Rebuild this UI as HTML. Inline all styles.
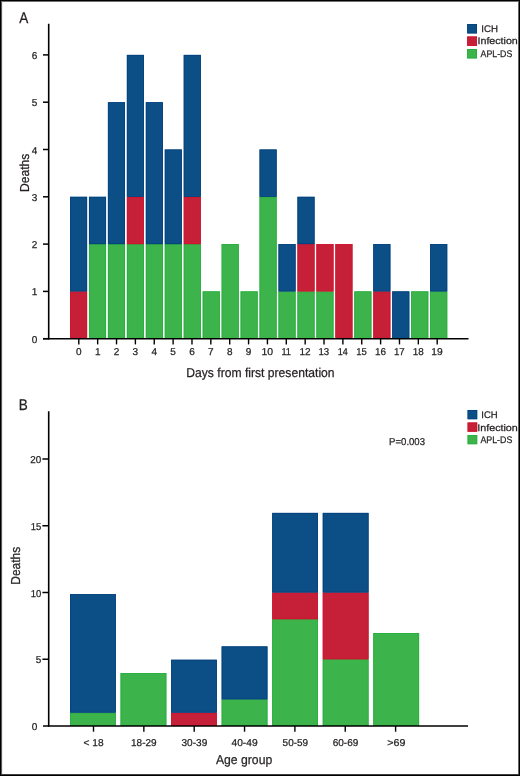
<!DOCTYPE html>
<html><head><meta charset="utf-8"><style>
html,body{margin:0;padding:0;background:#fff;}
body{width:520px;height:776px;overflow:hidden;position:relative;}
svg{position:absolute;left:0;top:0;will-change:transform;}
text{text-rendering:geometricPrecision;font-family:"Liberation Sans", sans-serif;fill:#231f20;stroke:#231f20;stroke-width:0.25px;}
.b{position:absolute;}
</style></head><body>
<svg width="520" height="776" viewBox="0 0 520 776">
<rect x="70.00" y="291.40" width="17.10" height="47.30" fill="#c52038"/>
<rect x="70.40" y="291.80" width="16.30" height="46.50" fill="none" stroke="#d4122e" stroke-width="0.8"/>
<rect x="70.00" y="196.80" width="17.10" height="94.60" fill="#0c4f86"/>
<rect x="70.40" y="197.20" width="16.30" height="93.80" fill="none" stroke="#04417d" stroke-width="0.8"/>
<rect x="88.95" y="244.10" width="17.10" height="94.60" fill="#3db44b"/>
<rect x="89.36" y="244.50" width="16.30" height="93.80" fill="none" stroke="#25ad3e" stroke-width="0.8"/>
<rect x="88.95" y="196.80" width="17.10" height="47.30" fill="#0c4f86"/>
<rect x="89.36" y="197.20" width="16.30" height="46.50" fill="none" stroke="#04417d" stroke-width="0.8"/>
<rect x="107.91" y="244.10" width="17.10" height="94.60" fill="#3db44b"/>
<rect x="108.31" y="244.50" width="16.30" height="93.80" fill="none" stroke="#25ad3e" stroke-width="0.8"/>
<rect x="107.91" y="102.20" width="17.10" height="141.90" fill="#0c4f86"/>
<rect x="108.31" y="102.60" width="16.30" height="141.10" fill="none" stroke="#04417d" stroke-width="0.8"/>
<rect x="126.86" y="244.10" width="17.10" height="94.60" fill="#3db44b"/>
<rect x="127.27" y="244.50" width="16.30" height="93.80" fill="none" stroke="#25ad3e" stroke-width="0.8"/>
<rect x="126.86" y="196.80" width="17.10" height="47.30" fill="#c52038"/>
<rect x="127.27" y="197.20" width="16.30" height="46.50" fill="none" stroke="#d4122e" stroke-width="0.8"/>
<rect x="126.86" y="54.90" width="17.10" height="141.90" fill="#0c4f86"/>
<rect x="127.27" y="55.30" width="16.30" height="141.10" fill="none" stroke="#04417d" stroke-width="0.8"/>
<rect x="145.82" y="244.10" width="17.10" height="94.60" fill="#3db44b"/>
<rect x="146.22" y="244.50" width="16.30" height="93.80" fill="none" stroke="#25ad3e" stroke-width="0.8"/>
<rect x="145.82" y="102.20" width="17.10" height="141.90" fill="#0c4f86"/>
<rect x="146.22" y="102.60" width="16.30" height="141.10" fill="none" stroke="#04417d" stroke-width="0.8"/>
<rect x="164.77" y="244.10" width="17.10" height="94.60" fill="#3db44b"/>
<rect x="165.17" y="244.50" width="16.30" height="93.80" fill="none" stroke="#25ad3e" stroke-width="0.8"/>
<rect x="164.77" y="149.50" width="17.10" height="94.60" fill="#0c4f86"/>
<rect x="165.17" y="149.90" width="16.30" height="93.80" fill="none" stroke="#04417d" stroke-width="0.8"/>
<rect x="183.73" y="244.10" width="17.10" height="94.60" fill="#3db44b"/>
<rect x="184.13" y="244.50" width="16.30" height="93.80" fill="none" stroke="#25ad3e" stroke-width="0.8"/>
<rect x="183.73" y="196.80" width="17.10" height="47.30" fill="#c52038"/>
<rect x="184.13" y="197.20" width="16.30" height="46.50" fill="none" stroke="#d4122e" stroke-width="0.8"/>
<rect x="183.73" y="54.90" width="17.10" height="141.90" fill="#0c4f86"/>
<rect x="184.13" y="55.30" width="16.30" height="141.10" fill="none" stroke="#04417d" stroke-width="0.8"/>
<rect x="202.69" y="291.40" width="17.10" height="47.30" fill="#3db44b"/>
<rect x="203.09" y="291.80" width="16.30" height="46.50" fill="none" stroke="#25ad3e" stroke-width="0.8"/>
<rect x="221.64" y="244.10" width="17.10" height="94.60" fill="#3db44b"/>
<rect x="222.04" y="244.50" width="16.30" height="93.80" fill="none" stroke="#25ad3e" stroke-width="0.8"/>
<rect x="240.59" y="291.40" width="17.10" height="47.30" fill="#3db44b"/>
<rect x="240.99" y="291.80" width="16.30" height="46.50" fill="none" stroke="#25ad3e" stroke-width="0.8"/>
<rect x="259.55" y="196.80" width="17.10" height="141.90" fill="#3db44b"/>
<rect x="259.95" y="197.20" width="16.30" height="141.10" fill="none" stroke="#25ad3e" stroke-width="0.8"/>
<rect x="259.55" y="149.50" width="17.10" height="47.30" fill="#0c4f86"/>
<rect x="259.95" y="149.90" width="16.30" height="46.50" fill="none" stroke="#04417d" stroke-width="0.8"/>
<rect x="278.50" y="291.40" width="17.10" height="47.30" fill="#3db44b"/>
<rect x="278.90" y="291.80" width="16.30" height="46.50" fill="none" stroke="#25ad3e" stroke-width="0.8"/>
<rect x="278.50" y="244.10" width="17.10" height="47.30" fill="#0c4f86"/>
<rect x="278.90" y="244.50" width="16.30" height="46.50" fill="none" stroke="#04417d" stroke-width="0.8"/>
<rect x="297.46" y="291.40" width="17.10" height="47.30" fill="#3db44b"/>
<rect x="297.86" y="291.80" width="16.30" height="46.50" fill="none" stroke="#25ad3e" stroke-width="0.8"/>
<rect x="297.46" y="244.10" width="17.10" height="47.30" fill="#c52038"/>
<rect x="297.86" y="244.50" width="16.30" height="46.50" fill="none" stroke="#d4122e" stroke-width="0.8"/>
<rect x="297.46" y="196.80" width="17.10" height="47.30" fill="#0c4f86"/>
<rect x="297.86" y="197.20" width="16.30" height="46.50" fill="none" stroke="#04417d" stroke-width="0.8"/>
<rect x="316.41" y="291.40" width="17.10" height="47.30" fill="#3db44b"/>
<rect x="316.81" y="291.80" width="16.30" height="46.50" fill="none" stroke="#25ad3e" stroke-width="0.8"/>
<rect x="316.41" y="244.10" width="17.10" height="47.30" fill="#c52038"/>
<rect x="316.81" y="244.50" width="16.30" height="46.50" fill="none" stroke="#d4122e" stroke-width="0.8"/>
<rect x="335.37" y="244.10" width="17.10" height="94.60" fill="#c52038"/>
<rect x="335.77" y="244.50" width="16.30" height="93.80" fill="none" stroke="#d4122e" stroke-width="0.8"/>
<rect x="354.32" y="291.40" width="17.10" height="47.30" fill="#3db44b"/>
<rect x="354.72" y="291.80" width="16.30" height="46.50" fill="none" stroke="#25ad3e" stroke-width="0.8"/>
<rect x="373.28" y="291.40" width="17.10" height="47.30" fill="#c52038"/>
<rect x="373.68" y="291.80" width="16.30" height="46.50" fill="none" stroke="#d4122e" stroke-width="0.8"/>
<rect x="373.28" y="244.10" width="17.10" height="47.30" fill="#0c4f86"/>
<rect x="373.68" y="244.50" width="16.30" height="46.50" fill="none" stroke="#04417d" stroke-width="0.8"/>
<rect x="392.23" y="291.40" width="17.10" height="47.30" fill="#0c4f86"/>
<rect x="392.63" y="291.80" width="16.30" height="46.50" fill="none" stroke="#04417d" stroke-width="0.8"/>
<rect x="411.19" y="291.40" width="17.10" height="47.30" fill="#3db44b"/>
<rect x="411.59" y="291.80" width="16.30" height="46.50" fill="none" stroke="#25ad3e" stroke-width="0.8"/>
<rect x="430.14" y="291.40" width="17.10" height="47.30" fill="#3db44b"/>
<rect x="430.54" y="291.80" width="16.30" height="46.50" fill="none" stroke="#25ad3e" stroke-width="0.8"/>
<rect x="430.14" y="244.10" width="17.10" height="47.30" fill="#0c4f86"/>
<rect x="430.54" y="244.50" width="16.30" height="46.50" fill="none" stroke="#04417d" stroke-width="0.8"/>
<line x1="48.70" y1="23.70" x2="48.70" y2="339.40" stroke="#000" stroke-width="1.6"/>
<line x1="43.00" y1="338.70" x2="468.50" y2="338.70" stroke="#000" stroke-width="1.6"/>
<line x1="43.00" y1="338.70" x2="48.70" y2="338.70" stroke="#000" stroke-width="1.5"/>
<text x="34.50" y="342.70" font-size="10.0" text-anchor="middle" >0</text>
<line x1="43.00" y1="291.40" x2="48.70" y2="291.40" stroke="#000" stroke-width="1.5"/>
<text x="34.50" y="295.40" font-size="10.0" text-anchor="middle" >1</text>
<line x1="43.00" y1="244.10" x2="48.70" y2="244.10" stroke="#000" stroke-width="1.5"/>
<text x="34.50" y="248.10" font-size="10.0" text-anchor="middle" >2</text>
<line x1="43.00" y1="196.80" x2="48.70" y2="196.80" stroke="#000" stroke-width="1.5"/>
<text x="34.50" y="200.80" font-size="10.0" text-anchor="middle" >3</text>
<line x1="43.00" y1="149.50" x2="48.70" y2="149.50" stroke="#000" stroke-width="1.5"/>
<text x="34.50" y="153.50" font-size="10.0" text-anchor="middle" >4</text>
<line x1="43.00" y1="102.20" x2="48.70" y2="102.20" stroke="#000" stroke-width="1.5"/>
<text x="34.50" y="106.20" font-size="10.0" text-anchor="middle" >5</text>
<line x1="43.00" y1="54.90" x2="48.70" y2="54.90" stroke="#000" stroke-width="1.5"/>
<text x="34.50" y="58.90" font-size="10.0" text-anchor="middle" >6</text>
<line x1="78.80" y1="338.70" x2="78.80" y2="344.40" stroke="#000" stroke-width="1.4"/>
<text x="78.80" y="355.30" font-size="10.0" text-anchor="middle" >0</text>
<line x1="97.66" y1="338.70" x2="97.66" y2="344.40" stroke="#000" stroke-width="1.4"/>
<text x="97.66" y="355.30" font-size="10.0" text-anchor="middle" >1</text>
<line x1="116.53" y1="338.70" x2="116.53" y2="344.40" stroke="#000" stroke-width="1.4"/>
<text x="116.53" y="355.30" font-size="10.0" text-anchor="middle" >2</text>
<line x1="135.39" y1="338.70" x2="135.39" y2="344.40" stroke="#000" stroke-width="1.4"/>
<text x="135.39" y="355.30" font-size="10.0" text-anchor="middle" >3</text>
<line x1="154.25" y1="338.70" x2="154.25" y2="344.40" stroke="#000" stroke-width="1.4"/>
<text x="154.25" y="355.30" font-size="10.0" text-anchor="middle" >4</text>
<line x1="173.12" y1="338.70" x2="173.12" y2="344.40" stroke="#000" stroke-width="1.4"/>
<text x="173.12" y="355.30" font-size="10.0" text-anchor="middle" >5</text>
<line x1="191.98" y1="338.70" x2="191.98" y2="344.40" stroke="#000" stroke-width="1.4"/>
<text x="191.98" y="355.30" font-size="10.0" text-anchor="middle" >6</text>
<line x1="210.84" y1="338.70" x2="210.84" y2="344.40" stroke="#000" stroke-width="1.4"/>
<text x="210.84" y="355.30" font-size="10.0" text-anchor="middle" >7</text>
<line x1="229.70" y1="338.70" x2="229.70" y2="344.40" stroke="#000" stroke-width="1.4"/>
<text x="229.70" y="355.30" font-size="10.0" text-anchor="middle" >8</text>
<line x1="248.57" y1="338.70" x2="248.57" y2="344.40" stroke="#000" stroke-width="1.4"/>
<text x="248.57" y="355.30" font-size="10.0" text-anchor="middle" >9</text>
<line x1="267.43" y1="338.70" x2="267.43" y2="344.40" stroke="#000" stroke-width="1.4"/>
<text x="261.44" y="355.30" font-size="10.0" text-anchor="start" textLength="11.60" lengthAdjust="spacingAndGlyphs" >10</text>
<line x1="286.29" y1="338.70" x2="286.29" y2="344.40" stroke="#000" stroke-width="1.4"/>
<text x="281.39" y="355.30" font-size="10.0" text-anchor="start" textLength="9.58" lengthAdjust="spacingAndGlyphs" >11</text>
<line x1="305.16" y1="338.70" x2="305.16" y2="344.40" stroke="#000" stroke-width="1.4"/>
<text x="299.44" y="355.30" font-size="10.0" text-anchor="start" textLength="11.17" lengthAdjust="spacingAndGlyphs" >12</text>
<line x1="324.02" y1="338.70" x2="324.02" y2="344.40" stroke="#000" stroke-width="1.4"/>
<text x="318.48" y="355.30" font-size="10.0" text-anchor="start" textLength="10.76" lengthAdjust="spacingAndGlyphs" >13</text>
<line x1="342.88" y1="338.70" x2="342.88" y2="344.40" stroke="#000" stroke-width="1.4"/>
<text x="337.64" y="355.30" font-size="10.0" text-anchor="start" textLength="10.05" lengthAdjust="spacingAndGlyphs" >14</text>
<line x1="361.75" y1="338.70" x2="361.75" y2="344.40" stroke="#000" stroke-width="1.4"/>
<text x="356.32" y="355.30" font-size="10.0" text-anchor="start" textLength="10.52" lengthAdjust="spacingAndGlyphs" >15</text>
<line x1="380.61" y1="338.70" x2="380.61" y2="344.40" stroke="#000" stroke-width="1.4"/>
<text x="374.96" y="355.30" font-size="10.0" text-anchor="start" textLength="10.99" lengthAdjust="spacingAndGlyphs" >16</text>
<line x1="399.47" y1="338.70" x2="399.47" y2="344.40" stroke="#000" stroke-width="1.4"/>
<text x="393.99" y="355.30" font-size="10.0" text-anchor="start" textLength="10.72" lengthAdjust="spacingAndGlyphs" >17</text>
<line x1="418.33" y1="338.70" x2="418.33" y2="344.40" stroke="#000" stroke-width="1.4"/>
<text x="412.68" y="355.30" font-size="10.0" text-anchor="start" textLength="10.98" lengthAdjust="spacingAndGlyphs" >18</text>
<line x1="437.20" y1="338.70" x2="437.20" y2="344.40" stroke="#000" stroke-width="1.4"/>
<text x="431.37" y="355.30" font-size="10.0" text-anchor="start" textLength="11.36" lengthAdjust="spacingAndGlyphs" >19</text>
<text x="186.31" y="376.90" font-size="12.9" text-anchor="start" textLength="148.28" lengthAdjust="spacingAndGlyphs" >Days from first presentation</text>
<g transform="translate(28.70,191.00) rotate(-90)">
<text x="-0.99" y="0.00" font-size="13.0" text-anchor="start" textLength="38.23" lengthAdjust="spacingAndGlyphs" >Deaths</text>
</g>
<text x="19.17" y="22.60" font-size="15.5" text-anchor="start" textLength="9.05" lengthAdjust="spacingAndGlyphs" >A</text>
<rect x="467.20" y="24.00" width="9.80" height="9.40" fill="#0c4f86"/>
<rect x="467.60" y="24.40" width="9.00" height="8.60" fill="none" stroke="#04417d" stroke-width="0.8"/>
<text x="481.31" y="31.90" font-size="9.6" text-anchor="start" textLength="16.68" lengthAdjust="spacingAndGlyphs" >ICH</text>
<rect x="467.20" y="36.50" width="9.80" height="9.40" fill="#c52038"/>
<rect x="467.60" y="36.90" width="9.00" height="8.60" fill="none" stroke="#d4122e" stroke-width="0.8"/>
<text x="477.52" y="44.40" font-size="9.6" text-anchor="start" textLength="40.28" lengthAdjust="spacingAndGlyphs" >Infection</text>
<rect x="467.20" y="49.00" width="9.80" height="9.40" fill="#3db44b"/>
<rect x="467.60" y="49.40" width="9.00" height="8.60" fill="none" stroke="#25ad3e" stroke-width="0.8"/>
<text x="480.58" y="56.90" font-size="9.6" text-anchor="start" textLength="31.72" lengthAdjust="spacingAndGlyphs" >APL-DS</text>
<rect x="70.00" y="712.65" width="45.80" height="13.35" fill="#3db44b"/>
<rect x="70.40" y="713.05" width="45.00" height="12.55" fill="none" stroke="#25ad3e" stroke-width="0.8"/>
<rect x="70.00" y="594.10" width="45.80" height="118.55" fill="#0c4f86"/>
<rect x="70.40" y="594.50" width="45.00" height="117.75" fill="none" stroke="#04417d" stroke-width="0.8"/>
<rect x="120.55" y="673.10" width="45.80" height="52.90" fill="#3db44b"/>
<rect x="120.95" y="673.50" width="45.00" height="52.10" fill="none" stroke="#25ad3e" stroke-width="0.8"/>
<rect x="171.10" y="712.65" width="45.80" height="13.35" fill="#c52038"/>
<rect x="171.50" y="713.05" width="45.00" height="12.55" fill="none" stroke="#d4122e" stroke-width="0.8"/>
<rect x="171.10" y="659.75" width="45.80" height="52.90" fill="#0c4f86"/>
<rect x="171.50" y="660.15" width="45.00" height="52.10" fill="none" stroke="#04417d" stroke-width="0.8"/>
<rect x="221.65" y="699.30" width="45.80" height="26.70" fill="#3db44b"/>
<rect x="222.05" y="699.70" width="45.00" height="25.90" fill="none" stroke="#25ad3e" stroke-width="0.8"/>
<rect x="221.65" y="646.40" width="45.80" height="52.90" fill="#0c4f86"/>
<rect x="222.05" y="646.80" width="45.00" height="52.10" fill="none" stroke="#04417d" stroke-width="0.8"/>
<rect x="272.20" y="619.20" width="45.80" height="106.80" fill="#3db44b"/>
<rect x="272.60" y="619.60" width="45.00" height="106.00" fill="none" stroke="#25ad3e" stroke-width="0.8"/>
<rect x="272.20" y="592.50" width="45.80" height="26.70" fill="#c52038"/>
<rect x="272.60" y="592.90" width="45.00" height="25.90" fill="none" stroke="#d4122e" stroke-width="0.8"/>
<rect x="272.20" y="512.90" width="45.80" height="79.60" fill="#0c4f86"/>
<rect x="272.60" y="513.30" width="45.00" height="78.80" fill="none" stroke="#04417d" stroke-width="0.8"/>
<rect x="322.75" y="659.25" width="45.80" height="66.75" fill="#3db44b"/>
<rect x="323.15" y="659.65" width="45.00" height="65.95" fill="none" stroke="#25ad3e" stroke-width="0.8"/>
<rect x="322.75" y="592.50" width="45.80" height="66.75" fill="#c52038"/>
<rect x="323.15" y="592.90" width="45.00" height="65.95" fill="none" stroke="#d4122e" stroke-width="0.8"/>
<rect x="322.75" y="512.90" width="45.80" height="79.60" fill="#0c4f86"/>
<rect x="323.15" y="513.30" width="45.00" height="78.80" fill="none" stroke="#04417d" stroke-width="0.8"/>
<rect x="373.30" y="633.05" width="45.80" height="92.95" fill="#3db44b"/>
<rect x="373.70" y="633.45" width="45.00" height="92.15" fill="none" stroke="#25ad3e" stroke-width="0.8"/>
<line x1="48.70" y1="411.20" x2="48.70" y2="726.80" stroke="#000" stroke-width="1.6"/>
<line x1="43.00" y1="726.00" x2="468.00" y2="726.00" stroke="#000" stroke-width="1.6"/>
<text x="34.60" y="730.00" font-size="10.0" text-anchor="middle" >0</text>
<line x1="42.40" y1="659.25" x2="48.70" y2="659.25" stroke="#000" stroke-width="1.5"/>
<text x="35.76" y="663.25" font-size="10.0" text-anchor="start" textLength="5.56" lengthAdjust="spacingAndGlyphs" >5</text>
<line x1="42.40" y1="592.50" x2="48.70" y2="592.50" stroke="#000" stroke-width="1.5"/>
<text x="30.78" y="596.50" font-size="10.0" text-anchor="start" textLength="10.49" lengthAdjust="spacingAndGlyphs" >10</text>
<line x1="42.40" y1="525.75" x2="48.70" y2="525.75" stroke="#000" stroke-width="1.5"/>
<text x="30.78" y="529.75" font-size="10.0" text-anchor="start" textLength="10.52" lengthAdjust="spacingAndGlyphs" >15</text>
<line x1="42.40" y1="459.00" x2="48.70" y2="459.00" stroke="#000" stroke-width="1.5"/>
<text x="30.30" y="463.00" font-size="10.0" text-anchor="start" textLength="10.98" lengthAdjust="spacingAndGlyphs" >20</text>
<line x1="93.50" y1="726.00" x2="93.50" y2="731.70" stroke="#000" stroke-width="1.4"/>
<text x="83.50" y="746.20" font-size="10.0" text-anchor="start" textLength="20.04" lengthAdjust="spacingAndGlyphs" >&lt; 18</text>
<line x1="143.85" y1="726.00" x2="143.85" y2="731.70" stroke="#000" stroke-width="1.4"/>
<text x="131.04" y="746.20" font-size="10.0" text-anchor="start" textLength="25.53" lengthAdjust="spacingAndGlyphs" >18-29</text>
<line x1="194.20" y1="726.00" x2="194.20" y2="731.70" stroke="#000" stroke-width="1.4"/>
<text x="181.52" y="746.20" font-size="10.0" text-anchor="start" textLength="25.76" lengthAdjust="spacingAndGlyphs" >30-39</text>
<line x1="244.55" y1="726.00" x2="244.55" y2="731.70" stroke="#000" stroke-width="1.4"/>
<text x="231.47" y="746.20" font-size="10.0" text-anchor="start" textLength="26.12" lengthAdjust="spacingAndGlyphs" >40-49</text>
<line x1="294.90" y1="726.00" x2="294.90" y2="731.70" stroke="#000" stroke-width="1.4"/>
<text x="282.60" y="746.20" font-size="10.0" text-anchor="start" textLength="25.47" lengthAdjust="spacingAndGlyphs" >50-59</text>
<line x1="345.25" y1="726.00" x2="345.25" y2="731.70" stroke="#000" stroke-width="1.4"/>
<text x="332.69" y="746.20" font-size="10.0" text-anchor="start" textLength="25.58" lengthAdjust="spacingAndGlyphs" >60-69</text>
<line x1="395.60" y1="726.00" x2="395.60" y2="731.70" stroke="#000" stroke-width="1.4"/>
<text x="387.37" y="746.20" font-size="10.0" text-anchor="start" textLength="18.13" lengthAdjust="spacingAndGlyphs" >&gt;69</text>
<text x="215.98" y="764.00" font-size="12.9" text-anchor="start" textLength="56.24" lengthAdjust="spacingAndGlyphs" >Age group</text>
<g transform="translate(19.80,583.70) rotate(-90)">
<text x="-0.98" y="0.00" font-size="13.0" text-anchor="start" textLength="37.81" lengthAdjust="spacingAndGlyphs" >Deaths</text>
</g>
<text x="18.79" y="410.20" font-size="15.5" text-anchor="start" textLength="9.02" lengthAdjust="spacingAndGlyphs" >B</text>
<text x="389.12" y="445.20" font-size="10.0" text-anchor="start" textLength="35.91" lengthAdjust="spacingAndGlyphs" >P=0.003</text>
<rect x="467.60" y="410.00" width="9.60" height="9.20" fill="#0c4f86"/>
<rect x="468.00" y="410.40" width="8.80" height="8.40" fill="none" stroke="#04417d" stroke-width="0.8"/>
<text x="481.32" y="418.00" font-size="9.6" text-anchor="start" textLength="16.35" lengthAdjust="spacingAndGlyphs" >ICH</text>
<rect x="467.60" y="422.50" width="9.60" height="9.20" fill="#c52038"/>
<rect x="468.00" y="422.90" width="8.80" height="8.40" fill="none" stroke="#d4122e" stroke-width="0.8"/>
<text x="477.31" y="430.50" font-size="9.6" text-anchor="start" textLength="40.48" lengthAdjust="spacingAndGlyphs" >Infection</text>
<rect x="467.60" y="435.00" width="9.60" height="9.20" fill="#3db44b"/>
<rect x="468.00" y="435.40" width="8.80" height="8.40" fill="none" stroke="#25ad3e" stroke-width="0.8"/>
<text x="480.38" y="443.00" font-size="9.6" text-anchor="start" textLength="31.92" lengthAdjust="spacingAndGlyphs" >APL-DS</text>
</svg>
<div class="b" style="left:2px;top:0;width:1px;height:776px;background:#ececec"></div>
<div class="b" style="left:1px;top:0;width:1px;height:776px;background:#5a5a5a"></div>
<div class="b" style="left:518px;top:0;width:1px;height:776px;background:#646464"></div>
<div class="b" style="left:0;top:1px;width:520px;height:1px;background:#707070"></div>
<div class="b" style="left:0;top:774px;width:520px;height:1px;background:#404040"></div>
<div class="b" style="left:0;top:0;width:520px;height:1px;background:#000"></div>
<div class="b" style="left:0;top:775px;width:520px;height:1px;background:#000"></div>
<div class="b" style="left:0;top:0;width:1px;height:776px;background:#000"></div>
<div class="b" style="left:519px;top:0;width:1px;height:776px;background:#000"></div>
</body></html>
